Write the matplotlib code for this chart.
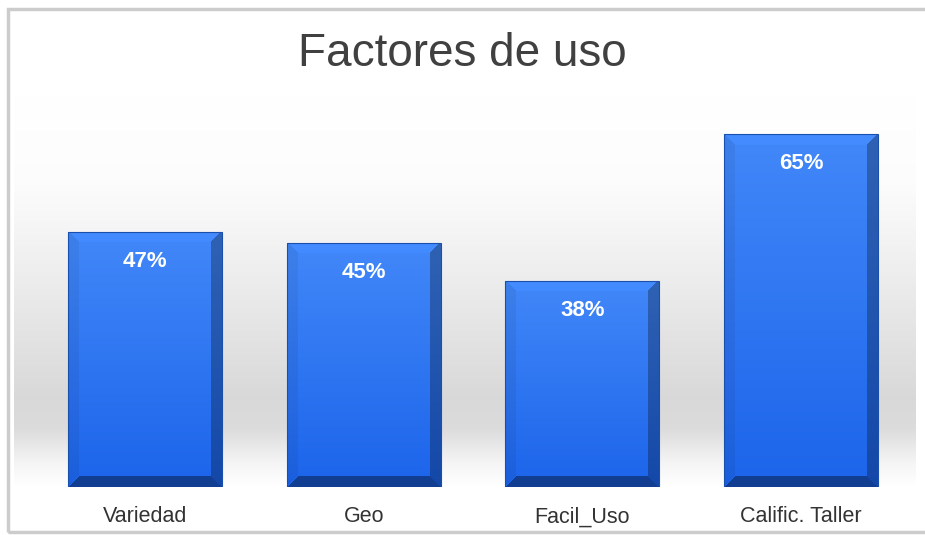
import numpy as np
import matplotlib
matplotlib.use("Agg")
import matplotlib.pyplot as plt
from matplotlib.patches import Rectangle

categories = ["Variedad", "Geo", "Facil_Uso", "Calific. Taller"]
values = [47, 45, 38, 65]
labels = ["47%", "45%", "38%", "65%"]

fig = plt.figure(figsize=(9.25, 5.35), dpi=100)
fig.patch.set_facecolor("white")

# background wall / floor gradient
bg = fig.add_axes([0.015, 0.0897, 0.975, 0.73], zorder=0)
ys = np.linspace(0, 1, 300)  # 0 bottom, 1 top
stops_y = [0.0, 0.06, 0.15, 0.23, 0.5, 0.78, 1.0]
stops_c = [1.0, 0.96, 0.86, 0.85, 0.92, 0.99, 1.0]
col = np.interp(ys, stops_y, stops_c)
img = np.repeat(col[::-1, None], 10, axis=1)
bg.imshow(np.dstack([img, img, img]), aspect="auto", extent=[0, 1, 0, 1])
bg.set_axis_off()

ax = fig.add_axes([0.039, 0.0897, 0.945, 0.7103], zorder=1)
ax.patch.set_alpha(0)
x = np.arange(len(categories))
w = 0.704
ax.set_xlim(-0.5, len(categories) - 0.5)
ax.set_ylim(0, 70)

bars = ax.bar(x, values, width=w, color="none", edgecolor="none")

top_rgb = np.array([0x42, 0x88, 0xf9]) / 255
bot_rgb = np.array([0x1c, 0x64, 0xea]) / 255
for b, v in zip(bars, values):
    W = 154
    H = int(round(v * 5.43))
    yy, xx = np.mgrid[0:H, 0:W]
    t = yy / max(H - 1, 1)
    rgb = top_rgb[None, None, :] * (1 - t[..., None]) + bot_rgb[None, None, :] * t[..., None]
    dl, dr, dt, db = xx, W - 1 - xx, yy, H - 1 - yy
    bev = 11
    shade = np.ones((H, W))
    m_r = (dr < bev) & (dr <= db) & (dr <= dt)
    m_b = (db < bev) & (db < dr) & (db < dl)
    m_l = (dl < bev) & (dl < db) & (dl <= dt)
    m_t = (dt < bev) & (dt < dl) & (dt < dr)
    shade[m_r] = 0.72
    shade[m_b] = 0.62
    shade[m_l] = 0.94
    shade[m_t] = 1.03
    rgb = np.clip(rgb * shade[..., None], 0, 1)
    x0 = b.get_x()
    im = ax.imshow(rgb, extent=[x0, x0 + b.get_width(), 0, v], aspect="auto", zorder=2)
    im.set_clip_path(b)
    ax.add_patch(Rectangle((x0, 0), b.get_width(), v, fill=False,
                           edgecolor="#1b4fae", linewidth=0.8, zorder=3))

for xi, v, lab in zip(x, values, labels):
    ax.text(xi, v - 5.4, lab, ha="center", va="center", color="white",
            fontsize=16, fontweight="bold", family="Liberation Sans", zorder=4)

ax.set_xticks(x)
ax.set_xticklabels(categories, fontsize=15.5, color="#333333", family="Liberation Sans")
ax.tick_params(axis="x", length=0, pad=14)
ax.set_yticks([])
for s in ax.spines.values():
    s.set_visible(False)

fig.text(0.5, 0.9, "Factores de uso", ha="center", va="center",
         fontsize=33, color="#404040", family="Liberation Sans")

# outer frame
fig.patches.append(Rectangle((0.009, 0.006), 1.2, 0.978, transform=fig.transFigure,
                             fill=False, edgecolor="#cccccc", linewidth=2.5))

fig.savefig("out.png", dpi=100)
